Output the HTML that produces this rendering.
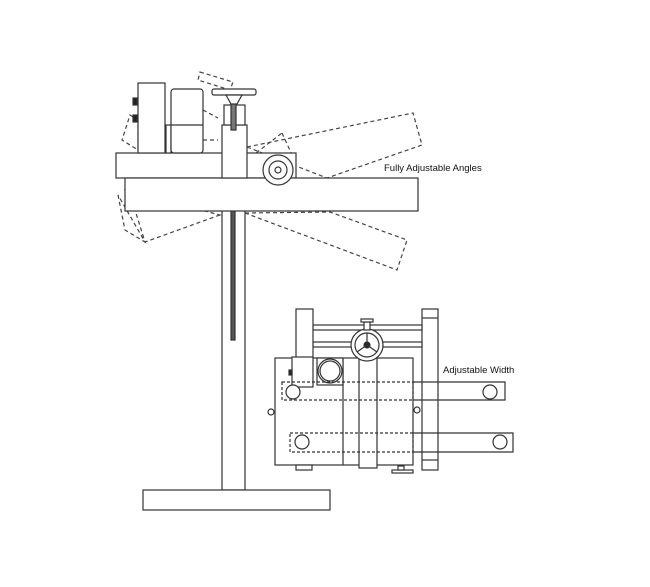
<!DOCTYPE html>
<html><head><style>body{margin:0;background:#fff}svg{display:block}</style></head><body>
<svg width="650" height="587" viewBox="0 0 650 587" xmlns="http://www.w3.org/2000/svg" fill="#fff" stroke="#333" stroke-width="1.2">
<g fill="none" stroke-dasharray="4,3" stroke="#444">
<polygon points="247,147 413,113 422,145 327,178"/>
<polygon points="245,213 330,212 407,240 397,270"/>
<polygon points="220,215 145,242 135,210 125,190"/>
<polygon points="118,195 125,230 145,242"/>
<polygon points="282,133 293,157 247,160"/>
<polygon points="200,72 233,82 230,90 198,80"/>
<polygon points="130,115 138,120 138,150 122,140"/>
<line x1="203" y1="110" x2="218" y2="118"/>
<line x1="203" y1="140" x2="218" y2="140"/>
<line x1="335" y1="178" x2="335" y2="210" stroke-dasharray="2,2"/>
<line x1="135" y1="178" x2="135" y2="210" stroke-dasharray="2,2"/>
</g>
<rect x="222" y="210" width="23" height="280"/>
<rect x="231" y="210" width="4" height="130" fill="#555" stroke="#333"/>
<rect x="143" y="490" width="187" height="20"/>
<rect x="116" y="153" width="180" height="25"/>
<rect x="125" y="178" width="293" height="33"/>
<rect x="138" y="83" width="27" height="70"/>
<rect x="133" y="98" width="4" height="7" fill="#222"/>
<rect x="133" y="115" width="4" height="7" fill="#222"/>
<rect x="166" y="125" width="5" height="28"/>
<rect x="171" y="89" width="32" height="64" rx="3"/>
<line x1="171" y1="125" x2="203" y2="125"/>
<rect x="222" y="125" width="25" height="53"/>
<rect x="224" y="105" width="21" height="20"/>
<rect x="231" y="100" width="5" height="30" fill="#777"/>
<rect x="212" y="89" width="44" height="6" rx="2"/>
<path d="M226 95 L242 95 L237 104 L231 104 Z"/>
<circle cx="278" cy="170" r="15"/>
<circle cx="278" cy="170" r="9"/>
<circle cx="278" cy="170" r="3"/>
<rect x="422" y="309" width="16" height="161"/>
<line x1="422" y1="318" x2="438" y2="318"/><line x1="422" y1="460" x2="438" y2="460"/>
<rect x="313" y="325" width="109" height="5"/>
<rect x="313" y="342" width="109" height="5"/>
<rect x="296" y="309" width="17" height="49"/>
<rect x="275" y="358" width="138" height="107"/>
<line x1="343" y1="358" x2="343" y2="465"/>
<rect x="292" y="357" width="21" height="30"/>
<rect x="289" y="370" width="3" height="5" fill="#222"/>
<rect x="317" y="358" width="26" height="27"/>
<circle cx="330" cy="371" r="12"/><circle cx="330" cy="371" r="10"/>
<rect x="359" y="344" width="18" height="124"/>
<rect x="296" y="465" width="16" height="5"/>
<rect x="392" y="470" width="21" height="3"/><rect x="398" y="466" width="6" height="4"/>
<circle cx="271" cy="412" r="3"/><circle cx="417" cy="410" r="3"/>
<g fill="none" stroke-dasharray="3,2"><rect x="282" y="382" width="131" height="18"/><rect x="290" y="433" width="123" height="19"/></g>
<path d="M413 382 H505 V400 H413" fill="none"/>
<path d="M413 433 H513 V452 H413" fill="none"/>
<circle cx="293" cy="392" r="7"/><circle cx="490" cy="392" r="7"/>
<circle cx="302" cy="442" r="7"/><circle cx="500" cy="442" r="7"/>
<circle cx="367" cy="345" r="16"/><circle cx="367" cy="345" r="12"/>
<circle cx="367" cy="345" r="3" fill="#222"/>
<path d="M367 345 L367 333 M367 345 L357 352 M367 345 L377 352"/>
<rect x="364" y="322" width="6" height="8"/><rect x="361" y="319" width="12" height="3"/>
<g fill="#111" stroke="none" font-family="Liberation Sans, sans-serif" font-size="9.5">
<text x="384" y="171">Fully Adjustable Angles</text>
<text x="443" y="373">Adjustable Width</text>
</g>
</svg>
</body></html>
